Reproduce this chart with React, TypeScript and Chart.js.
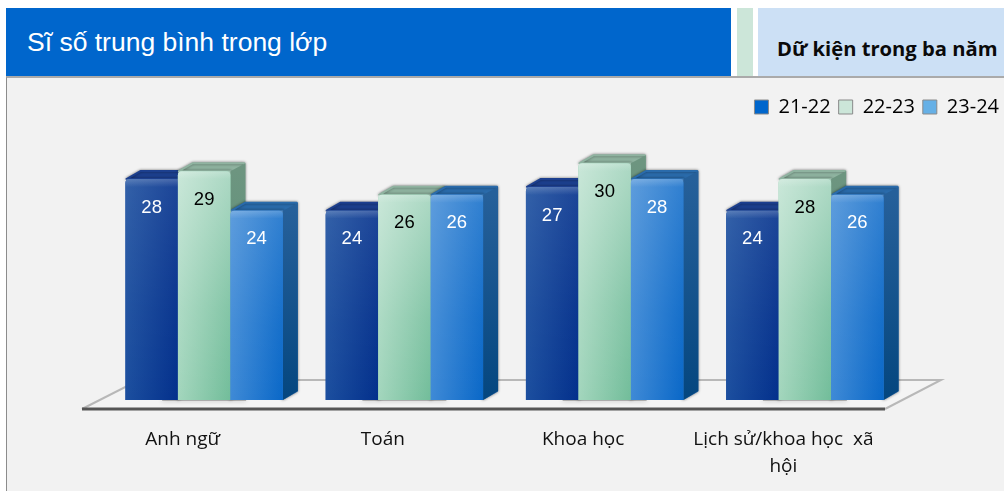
import React, { useEffect, useRef } from "react";
import { Chart, registerables } from "chart.js";

Chart.register(...registerables);

const titleText = "Sĩ số trung bình trong lớp";
const sideTitle = "Dữ kiện trong ba năm";
const categories = ["Anh ngữ", "Toán", "Khoa học", ["Lịch sử/khoa học  xã", "hội"]];
const seriesNames = ["21-22", "22-23", "23-24"];
const values2122 = [28, 24, 27, 24];
const values2223 = [29, 26, 30, 28];
const values2324 = [24, 26, 28, 26];
const legendColors = ["#0066cc", "#cce6d9", "#66b0e6"];
const frontColors = ["#1a4b9d", "#8ccaac", "#2b7ad0"];
const labelColors = ["#ffffff", "#000000", "#ffffff"];

const shades = [
  { left: "#1c4f9f", right: "#03308c", gloss: 0.1, top: "#1c3f8e", sideTop: "#16428c", sideBottom: "#033f80" },
  { left: "#a3d6bd", right: "#72bd9a", gloss: 0.42, top: "#8fb3a0", sideTop: "#6d9580", sideBottom: "#4f8f74" },
  { left: "#3f8ad6", right: "#0a68c8", gloss: 0.16, top: "#2a6bab", sideTop: "#26609a", sideBottom: "#04467f" },
];

const DX = 15;
const DY = 9;

const poly = (c: CanvasRenderingContext2D, pts: number[][]) => {
  c.beginPath();
  pts.forEach((p, i) => (i ? c.lineTo(p[0], p[1]) : c.moveTo(p[0], p[1])));
  c.closePath();
};

const depthPlugin = {
  id: "depth",
  beforeDatasetsDraw(chart: any) {
    const c: CanvasRenderingContext2D = chart.ctx;
    const base = chart.scales.y.getPixelForValue(0);
    const { left, right } = chart.chartArea;
    const fl = left - 22, fr = right - 20, fy = base + 9, bl = left + 35, br = right + 36, by = base - 20;
    c.save();
    poly(c, [[fl, fy], [fr, fy], [br, by], [bl, by]]);
    c.fillStyle = "#f4f4f4";
    c.fill();
    c.lineWidth = 2;
    c.strokeStyle = "#b8b8b8";
    c.beginPath();
    c.moveTo(fl, fy);
    c.lineTo(bl, by);
    c.lineTo(br, by);
    c.lineTo(fr, fy);
    c.stroke();
    c.lineWidth = 3;
    c.strokeStyle = "#555555";
    c.beginPath();
    c.moveTo(fl, fy);
    c.lineTo(fr, fy);
    c.stroke();
    chart.getDatasetMeta(1).data.forEach((bar: any) => {
      c.save();
      c.shadowColor = "rgba(0,0,0,0.5)";
      c.shadowBlur = 5;
      c.fillStyle = "rgba(120,120,120,0.5)";
      c.fillRect(bar.x - bar.width * 0.8, base - 1, bar.width * 1.6, 2);
      c.restore();
    });
    chart.data.datasets.forEach((_: any, d: number) => {
      const s = shades[d];
      chart.getDatasetMeta(d).data.forEach((bar: any) => {
        const x1 = bar.x - bar.width / 2;
        const x2 = bar.x + bar.width / 2;
        const y = bar.y;
        c.save();
        c.shadowColor = "rgba(0,0,0,0.45)";
        c.shadowBlur = 3;
        c.lineJoin = "round";
        c.lineWidth = 2;
        c.strokeStyle = s.top;
        poly(c, [[x1 + 1, y], [x1 + DX, y - DY + 1], [x2 + DX - 1, y - DY + 1], [x2 + DX - 1, base - DY], [x2, base - 1], [x2, y]]);
        c.fillStyle = s.top;
        c.fill();
        c.stroke();
        c.restore();
        const g = c.createLinearGradient(0, y, 0, base);
        g.addColorStop(0, s.sideTop);
        g.addColorStop(1, s.sideBottom);
        poly(c, [[x2, y], [x2 + DX, y - DY + 1], [x2 + DX, base - DY], [x2, base]]);
        c.fillStyle = g;
        c.fill();
      });
    });
    c.restore();
  },
  afterDatasetsDraw(chart: any) {
    const c: CanvasRenderingContext2D = chart.ctx;
    const base = chart.scales.y.getPixelForValue(0);
    c.save();
    chart.data.datasets.forEach((ds: any, d: number) => {
      const s = shades[d];
      chart.getDatasetMeta(d).data.forEach((bar: any, i: number) => {
        const x1 = bar.x - bar.width / 2;
        const y = bar.y;
        const front = () => {
          c.beginPath();
          c.roundRect(x1, y, bar.width, base - y, [4, 4, 0, 0]);
        };
        const h = c.createLinearGradient(x1, 0, x1 + bar.width, 0);
        h.addColorStop(0, s.left);
        h.addColorStop(1, s.right);
        front();
        c.fillStyle = h;
        c.fill();
        const v = c.createLinearGradient(0, y, 0, base);
        v.addColorStop(0, `rgba(255,255,255,${s.gloss})`);
        v.addColorStop(0.6, `rgba(255,255,255,${s.gloss * 0.3})`);
        v.addColorStop(1, "rgba(255,255,255,0)");
        front();
        c.fillStyle = v;
        c.fill();
        const e = c.createLinearGradient(0, y, 0, y + 8);
        e.addColorStop(0, "rgba(255,255,255,0.2)");
        e.addColorStop(1, "rgba(255,255,255,0)");
        c.fillStyle = e;
        c.fillRect(x1, y, bar.width, 8);
        c.fillStyle = labelColors[d];
        c.font = "18.5px 'Liberation Sans'";
        c.textAlign = "center";
        c.textBaseline = "middle";
        c.fillText(String(ds.data[i]), bar.x, y + 28.5);
      });
    });
    c.restore();
  },
};

export default function App() {
  const ref = useRef<HTMLCanvasElement>(null);
  useEffect(() => {
    const chart = new Chart(ref.current as HTMLCanvasElement, {
      type: "bar",
      data: {
        labels: categories as any,
        datasets: [values2122, values2223, values2324].map((data, i) => ({
          label: seriesNames[i],
          data,
          backgroundColor: frontColors[i],
          borderRadius: { topLeft: 4, topRight: 4 },
          categoryPercentage: 0.786,
          barPercentage: 1,
        })),
      },
      options: {
        animation: false,
        responsive: false,
        layout: { padding: { top: 89 } },
        plugins: {
          tooltip: { enabled: false },
          legend: {
            position: "top",
            align: "end",
            labels: {
              boxWidth: 14,
              boxHeight: 14,
              padding: 8,
              color: "#111111",
              font: { family: "'Open Sans'", size: 20, lineHeight: 1 },
              generateLabels: () =>
                seriesNames.map((text, i) => ({
                  text,
                  fillStyle: legendColors[i],
                  strokeStyle: "#8a8a8a",
                  lineWidth: 1,
                  datasetIndex: i,
                })),
            },
          },
        },
        scales: {
          x: {
            grid: { display: false },
            border: { display: false },
            afterFit: (s: any) => { s.height = 91; },
            ticks: {
              autoSkip: false,
              maxRotation: 0,
              labelOffset: -21.5,
              padding: 18,
              color: "#111111",
              font: { family: "'Open Sans'", size: 19, lineHeight: 1.42 },
            },
          },
          y: {
            min: 0,
            max: 34.6,
            grid: { display: false },
            border: { display: false },
            ticks: { display: false },
            afterFit: (s: any) => { s.width = 104; },
          },
          y2: {
            position: "right",
            grid: { display: false },
            border: { display: false },
            ticks: { display: false },
            afterFit: (s: any) => { s.width = 102; },
          },
        },
      } as any,
      plugins: [depthPlugin],
    });
    return () => chart.destroy();
  }, []);
  const abs = (left: number, top: number, width: number, height: number, background: string): React.CSSProperties => ({
    position: "absolute", left, top, width, height, background,
  });
  return (
    <div style={{ position: "fixed", left: 0, top: 0, width: 1004, height: 491, background: "#ffffff", overflow: "hidden" }}>
      <div style={{ ...abs(6, 76, 998, 415, "#f2f2f2"), boxSizing: "border-box", borderLeft: "1px solid #8c8c8c", borderTop: "2px solid #aaaaaa" }} />
      <div style={{ ...abs(6, 8, 725, 68, "#0066cc"), color: "#ffffff", font: "26.5px 'Liberation Sans'", lineHeight: "68px", textIndent: 21 }}>{titleText}</div>
      <div style={abs(737, 8, 16, 68, "#cce6d9")} />
      <div style={{ ...abs(758, 8, 246, 68, "#cce0f5"), color: "#0a0a0a", font: "bold 20.2px 'Open Sans'", lineHeight: "80px", textIndent: 19, whiteSpace: "nowrap" }}>{sideTitle}</div>
      <canvas ref={ref} width={1007} height={491} style={{ position: "absolute", left: 0, top: 0, display: "block" }} />
    </div>
  );
}
